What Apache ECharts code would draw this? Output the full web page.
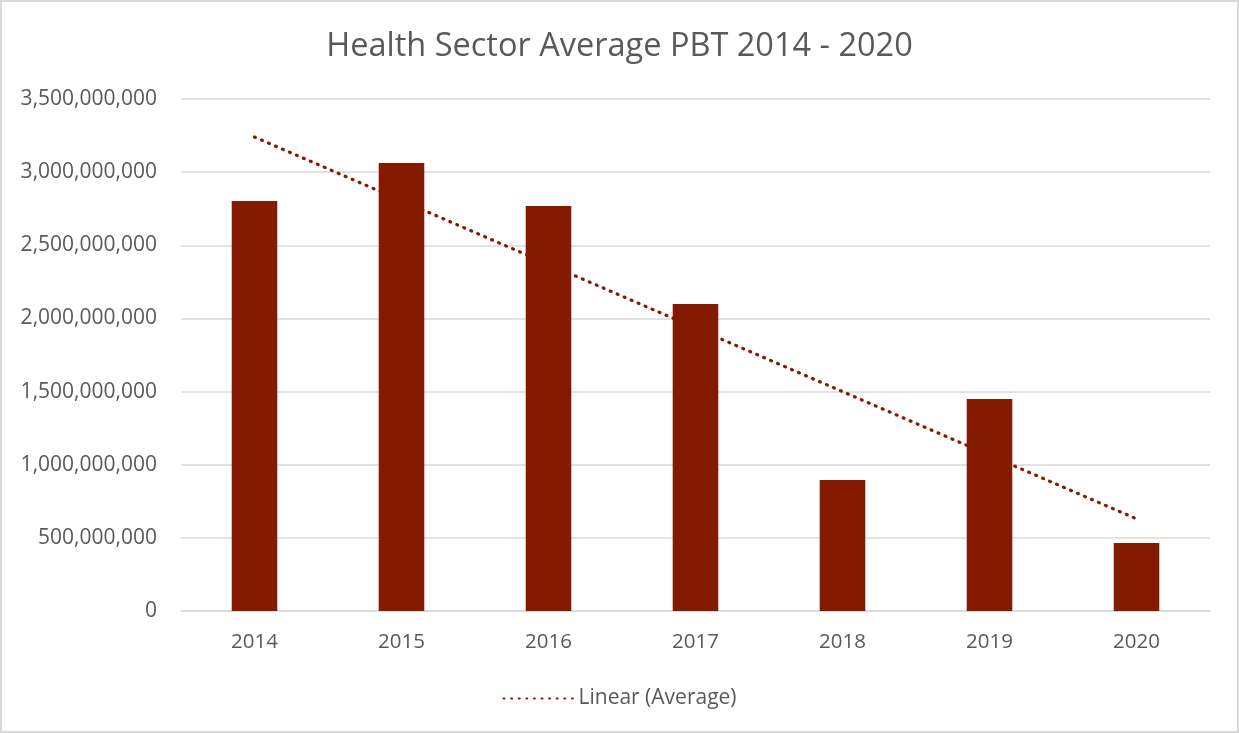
<!DOCTYPE html>
<html>
<head>
<meta charset="utf-8">
<script src="https://cdn.jsdelivr.net/npm/echarts@6/dist/echarts.min.js"></script>
<style>
  html, body { margin: 0; padding: 0; background: #fff; }
  #chart {
    width: 1239px;
    height: 733px;
    box-sizing: border-box;
    border: 2px solid #d9d9d9;
  }
</style>
</head>
<body>
<div id="chart"></div>
<script>
// data
const years = ["2014", "2015", "2016", "2017", "2018", "2019", "2020"];
const averagePbt = [2803000000, 3062000000, 2768000000, 2099000000, 895000000, 1449000000, 465000000];
// linear trendline ends, as drawn in the reference
const trendYears = ["2014", "2020"];
const trendValues = [3240000000, 630000000];

const textColor = "#595959";
const barColor = "#841b00";
const font = "'Open Sans', sans-serif";

const chart = echarts.init(document.getElementById("chart"));

const option = {
  animation: false,
  backgroundColor: "#fff",
  title: {
    text: "Health Sector Average PBT 2014 - 2020",
    left: "center",
    top: 23,
    textStyle: {
      color: textColor,
      fontFamily: font,
      fontSize: 32.5,
      fontWeight: "normal"
    }
  },
  legend: {
    bottom: 17,
    left: "center",
    itemWidth: 70,
    itemHeight: 14,
    itemGap: 7,
    data: ["Linear (Average)"],
    itemStyle: { opacity: 0 },
    textStyle: {
      color: textColor,
      fontFamily: font,
      fontSize: 21
    }
  },
  grid: {
    left: 179,
    right: 27,
    top: 97,
    bottom: 120
  },
  xAxis: {
    type: "category",
    data: years,
    axisLine: { lineStyle: { color: "#d9d9d9", width: 1.5 } },
    axisTick: { show: false },
    axisLabel: {
      color: textColor,
      fontFamily: font,
      fontSize: 20.5,
      margin: 21
    }
  },
  yAxis: {
    type: "value",
    min: 0,
    max: 3500000000,
    interval: 500000000,
    axisLine: { show: false },
    axisTick: { show: false },
    splitLine: { lineStyle: { color: "#d9d9d9", width: 1.5 } },
    axisLabel: {
      color: textColor,
      fontFamily: font,
      fontSize: 21,
      margin: 24,
      formatter: v => v.toLocaleString("en-US")
    }
  },
  series: [
    {
      name: "Average",
      type: "bar",
      data: averagePbt,
      barWidth: "31%",
      z: 3,
      itemStyle: { color: barColor }
    },
    {
      name: "Linear (Average)",
      type: "line",
      data: trendYears.map((y, i) => [y, trendValues[i]]),
      symbol: "none",
      z: 2,
      lineStyle: {
        color: barColor,
        width: 3.2,
        type: [1, 6.6],
        cap: "round"
      },
      itemStyle: { color: barColor }
    }
  ]
};

chart.setOption(option);
</script>
</body>
</html>
